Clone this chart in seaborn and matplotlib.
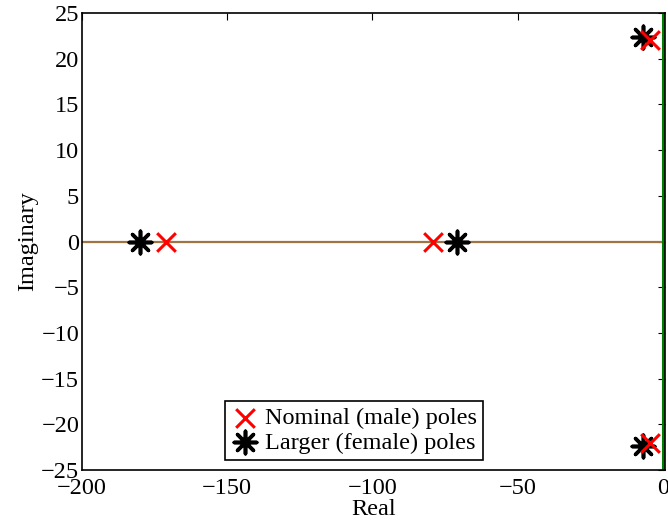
import matplotlib
matplotlib.use("Agg")
import matplotlib.pyplot as plt
import seaborn as sns
import pandas as pd

# Pole locations (real, imaginary)
nominal_real = [-171.0, -79.0, -4.2, -4.2]
nominal_imag = [0.0, 0.0, 22.0, -22.0]
larger_real = [-180.0, -71.0, -6.8, -6.8]
larger_imag = [0.0, 0.0, 22.4, -22.4]

x_ticks = [-200, -150, -100, -50, 0]
y_ticks = [-25, -20, -15, -10, -5, 0, 5, 10, 15, 20, 25]

sns.set_theme(style="white")
plt.rcParams["font.family"] = ["Liberation Serif", "DejaVu Serif"]
plt.rcParams["text.color"] = "black"
plt.rcParams["axes.labelcolor"] = "black"
plt.rcParams["xtick.color"] = "black"
plt.rcParams["ytick.color"] = "black"

FS = 17.5

nominal = pd.DataFrame({"Real": nominal_real, "Imaginary": nominal_imag})
larger = pd.DataFrame({"Real": larger_real, "Imaginary": larger_imag})

fig = plt.figure(figsize=(6.68, 5.25), dpi=100)
ax = fig.add_axes([82 / 668, 1 - 470 / 525, 583 / 668, 457 / 525])

# reference axes through the origin
ax.axhline(0, color="#9E7442", lw=1.6, zorder=1)
ax.axvline(0, color="#008000", lw=2.2, zorder=1)

sns.scatterplot(data=larger, x="Real", y="Imaginary", ax=ax,
                marker=(8, 2, 0), s=260, color="black", linewidth=2.6,
                label="Larger (female) poles", zorder=3)
sns.scatterplot(data=nominal, x="Real", y="Imaginary", ax=ax,
                marker="x", s=180, color="red", linewidth=2.2,
                label="Nominal (male) poles", zorder=4)

ax.set_xlim(-200, 0.8)
ax.set_ylim(-25, 25)
ax.set_xticks(x_ticks)
ax.set_yticks(y_ticks)
ax.set_xticklabels([f"\u2212{abs(v)}" if v < 0 else str(v) for v in x_ticks])
ax.set_yticklabels([f"\u2212{abs(v)}" if v < 0 else str(v) for v in y_ticks])
ax.tick_params(direction="in", length=5, width=0.8, labelsize=FS,
               top=True, right=True, color="black", labelcolor="black")
ax.tick_params(axis="x", pad=6)
ax.tick_params(axis="y", pad=2)
for sp in ax.spines.values():
    sp.set_color("black")
    sp.set_linewidth(1.2)

ax.set_xlabel("Real", fontsize=FS, labelpad=0, color="black")
ax.set_ylabel("Imaginary", fontsize=FS, labelpad=2, color="black")

handles, labels = ax.get_legend_handles_labels()
order = [labels.index("Nominal (male) poles"), labels.index("Larger (female) poles")]
leg = ax.legend([handles[i] for i in order], [labels[i] for i in order],
                loc="lower center", bbox_to_anchor=(0.467, 0.022),
                fontsize=FS, frameon=True, fancybox=False, edgecolor="black",
                framealpha=1, borderpad=0.25, handletextpad=0.3,
                labelspacing=0.1, borderaxespad=0, handlelength=1.1)
leg.get_frame().set_linewidth(1.2)
for t in leg.get_texts():
    t.set_color("black")

fig.savefig("out.png", dpi=100)
